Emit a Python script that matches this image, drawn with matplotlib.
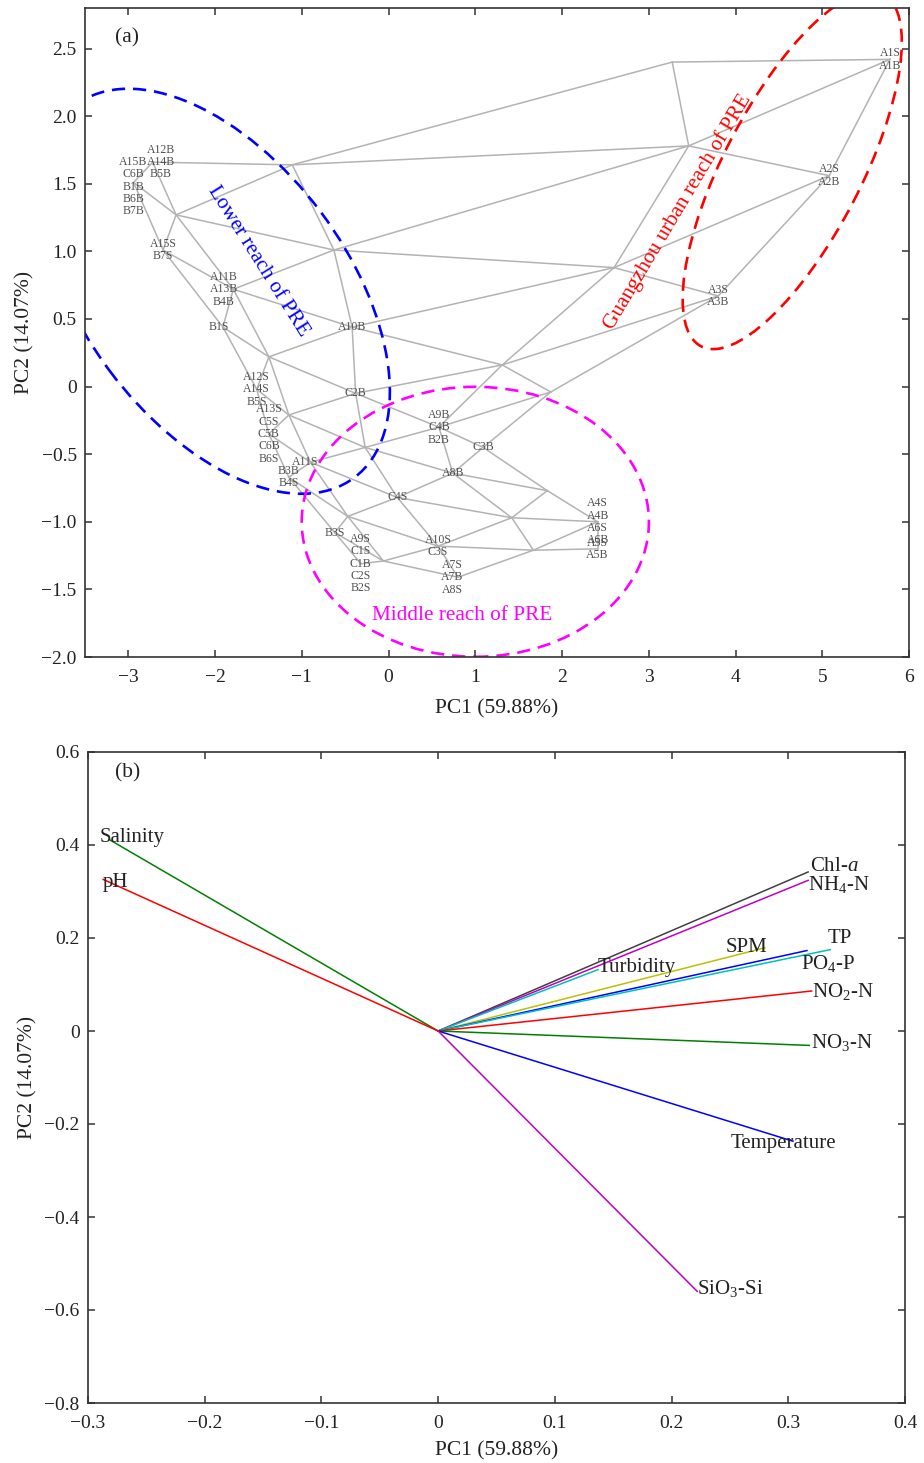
import numpy as np
import matplotlib
matplotlib.use("Agg")
import matplotlib.pyplot as plt
from matplotlib.patches import Ellipse
from matplotlib.transforms import ScaledTranslation
from matplotlib.ticker import FuncFormatter, MultipleLocator

plt.rcParams['font.family'] = ['Liberation Serif', 'DejaVu Serif']
plt.rcParams['mathtext.fontset'] = 'custom'
plt.rcParams['mathtext.rm'] = 'Liberation Serif'
plt.rcParams['mathtext.it'] = 'Liberation Serif:italic'

# ---- (a) SOM neurons (hexagonal grid, 5 x 8) projected on PC1/PC2 ----
som_pc1 = [
    [5.78, 5.08, 3.80, 1.87, 1.09, 1.83, 2.41, 2.41],
    [3.27, 3.46, 2.60, 1.31, 0.58, 0.74, 1.42, 1.67],
    [-1.11, -0.63, -0.42, -0.38, -0.27, 0.10, 0.57, 0.80],
    [-2.72, -2.45, -1.79, -1.38, -1.15, -0.90, -0.47, -0.06],
    [-2.94, -2.60, -1.91, -1.52, -1.38, -1.15, -0.62, -0.32],
]
som_pc2 = [
    [2.42, 1.56, 0.67, -0.04, -0.45, -0.77, -1.00, -1.20],
    [2.40, 1.78, 0.88, 0.16, -0.30, -0.64, -0.97, -1.21],
    [1.64, 1.01, 0.44, -0.05, -0.45, -0.82, -1.18, -1.41],
    [1.66, 1.27, 0.72, 0.22, -0.21, -0.56, -0.96, -1.29],
    [1.51, 1.01, 0.44, -0.02, -0.35, -0.67, -1.08, -1.31],
]

# samples mapped to each neuron (row, col)
bmu_samples = {
    (0, 0): ['A1S', 'A1B'],
    (0, 1): ['A2S', 'A2B'],
    (0, 2): ['A3S', 'A3B'],
    (0, 4): ['C3B'],
    (0, 6): ['A4S', 'A4B', 'A6S', 'A6B'],
    (0, 7): ['A5S', 'A5B'],
    (1, 4): ['A9B', 'C4B', 'B2B'],
    (1, 5): ['A8B'],
    (2, 2): ['A10B'],
    (2, 3): ['C2B'],
    (2, 5): ['C4S'],
    (2, 6): ['A10S', 'C3S'],
    (2, 7): ['A7S', 'A7B', 'A8S'],
    (3, 0): ['A12B', 'A14B', 'B5B'],
    (3, 2): ['A11B', 'A13B', 'B4B'],
    (3, 5): ['A11S'],
    (4, 0): ['A15B', 'C6B', 'B1B', 'B6B', 'B7B'],
    (4, 1): ['A15S', 'B7S'],
    (4, 2): ['B1S'],
    (4, 3): ['A12S', 'A14S', 'B5S'],
    (4, 4): ['A13S', 'C5S', 'C5B', 'C6B', 'B6S'],
    (4, 5): ['B3B', 'B4S'],
    (4, 6): ['B3S'],
    (4, 7): ['A9S', 'C1S', 'C1B', 'C2S', 'B2S'],
}

# ---- (b) loadings ----
variables = ['Chl-$a$', 'NH$_4$-N', 'Turbidity', 'SPM', 'PO$_4$-P', 'TP',
             'NO$_2$-N', 'NO$_3$-N', 'Temperature', 'SiO$_3$-Si',
             'Salinity', 'pH']
load_pc1 = [0.317, 0.317, 0.137, 0.280, 0.316, 0.336, 0.320, 0.318,
            0.304, 0.222, -0.282, -0.287]
load_pc2 = [0.342, 0.324, 0.132, 0.179, 0.173, 0.175, 0.086, -0.031,
            -0.237, -0.560, 0.412, 0.326]
var_colors = ['#404040', '#bf00bf', '#00bfbf', '#bfbf00', '#0000ff', '#00bfbf',
              '#ff0000', '#008000', '#0000ff', '#bf00bf', '#008000', '#ff0000']
# label placement (offset points, alignment)
var_label_pos = [((1, 4), 'left'), ((0, -3), 'left'), ((0, 1.5), 'left'),
                 ((1.5, 0.5), 'right'), ((-4, -9), 'left'), ((-2, 8), 'left'),
                 ((0, 0), 'left'), ((1.5, 2), 'left'), ((-7, -2), 'center'),
                 ((0, 2), 'left'), ((-7, 1.5), 'left'), ((0, -2), 'left')]

fig = plt.figure(figsize=(9.24, 14.63), dpi=100)
ax1 = fig.add_axes([85 / 924, 1 - 657 / 1463, 824 / 924, 649 / 1463])
ax2 = fig.add_axes([88 / 924, 1 - 1403 / 1463, 817 / 924, 651 / 1463])


def zero_fmt(dec):
    def f(v, pos):
        if abs(v) < 1e-9:
            return '0'
        return f'{v:.{dec}f}'.replace('-', '\u2212')
    return FuncFormatter(f)


def style_axes(ax):
    for s in ax.spines.values():
        s.set_linewidth(1.2)
        s.set_color('#333333')
    ax.tick_params(direction='in', top=True, right=True, length=5, width=1.1,
                   color='#333333', labelsize=14, pad=6, labelcolor='#222222')
    ax.tick_params(axis='x', pad=9)


def dashed_ellipse(ax, center, a, b, angle, color):
    # a, b in inches so the shape follows the picture, centre in data units
    tr = fig.dpi_scale_trans + ScaledTranslation(center[0], center[1], ax.transData)
    e = Ellipse((0, 0), 2 * a, 2 * b, angle=angle, transform=tr, fill=False,
                ec=color, lw=1.9, ls=(0, (5, 3)))
    ax.add_patch(e)


# ---------- panel (a) ----------
px = np.array(som_pc1)
py = np.array(som_pc2)
nr, nc = px.shape
for r in range(nr):
    for c in range(nc):
        nb = []
        if c + 1 < nc:
            nb.append((r, c + 1))
        if r + 1 < nr:
            cols = (c, c + 1) if r % 2 == 0 else (c - 1, c)
            nb += [(r + 1, cc) for cc in cols if 0 <= cc < nc]
        for rr, cc in nb:
            ax1.plot([px[r, c], px[rr, cc]], [py[r, c], py[rr, cc]],
                     color='#b3b3b3', lw=1.1, zorder=1)

label_shift = {(3, 0): (6, 0), (4, 0): (0, -3), (3, 2): (-7, 0),
               (3, 5): (-4, 0), (2, 7): (-4, 0), (4, 2): (-3, 0)}
step = 8.9
for (r, c), names in bmu_samples.items():
    sx, sy = label_shift.get((r, c), (0, 0))
    n = len(names)
    for k, name in enumerate(names):
        dy = ((n - 1) / 2 - k) * step
        ax1.annotate(name, xy=(px[r, c], py[r, c]), xytext=(sx, sy + dy),
                     textcoords='offset points', ha='center', va='center',
                     fontsize=8.5, color='#505050', zorder=3)

dashed_ellipse(ax1, (-2.0, 0.705), 2.326, 1.321, -53.3, '#0000ff')
dashed_ellipse(ax1, (4.654, 1.598), 1.98, 0.686, 62.6, '#ff0000')
dashed_ellipse(ax1, (1.0, -1.0), 1.736, 1.35, 0, '#ff00ff')

ax1.text(-1.50, 0.93, 'Lower reach of PRE', color='#0000ff', fontsize=15.3,
         rotation=-57.8, rotation_mode='anchor', ha='center', va='center')
ax1.text(3.33, 1.29, 'Guangzhou urban reach of PRE', color='#ff0000',
         fontsize=15.3, rotation=59.2, rotation_mode='anchor',
         ha='center', va='center')
ax1.text(0.85, -1.69, 'Middle reach of PRE', color='#ff00ff', fontsize=15.3,
         ha='center', va='center')
ax1.text(0.036, 0.954, '(a)', transform=ax1.transAxes, fontsize=15.5,
         ha='left', va='center', color='#222222')

ax1.set_xlim(-3.5, 6)
ax1.set_ylim(-2, 2.8)
ax1.xaxis.set_major_locator(MultipleLocator(1))
ax1.yaxis.set_major_locator(MultipleLocator(0.5))
ax1.xaxis.set_major_formatter(zero_fmt(0))
ax1.yaxis.set_major_formatter(zero_fmt(1))
style_axes(ax1)
ax1.set_xlabel('PC1 (59.88%)', fontsize=15.5, color='#222222', labelpad=9)
ax1.set_ylabel('PC2 (14.07%)', fontsize=15.5, color='#222222', labelpad=5)

# ---------- panel (b) ----------
for name, x, y, col, (off, ha) in zip(variables, load_pc1, load_pc2,
                                      var_colors, var_label_pos):
    ax2.plot([0, x], [0, y], color=col, lw=1.1)
    ax2.annotate(name, xy=(x, y), xytext=off, textcoords='offset points',
                 ha=ha, va='center', fontsize=15, color='#222222')

ax2.text(0.033, 0.968, '(b)', transform=ax2.transAxes, fontsize=15.5,
         ha='left', va='center', color='#222222')
ax2.set_xlim(-0.3, 0.4)
ax2.set_ylim(-0.8, 0.6)
ax2.xaxis.set_major_locator(MultipleLocator(0.1))
ax2.yaxis.set_major_locator(MultipleLocator(0.2))
ax2.xaxis.set_major_formatter(zero_fmt(1))
ax2.yaxis.set_major_formatter(zero_fmt(1))
style_axes(ax2)
ax2.set_xlabel('PC1 (59.88%)', fontsize=15.5, color='#222222', labelpad=6)
ax2.set_ylabel('PC2 (14.07%)', fontsize=15.5, color='#222222', labelpad=5)

fig.savefig('out.png', dpi=100)
